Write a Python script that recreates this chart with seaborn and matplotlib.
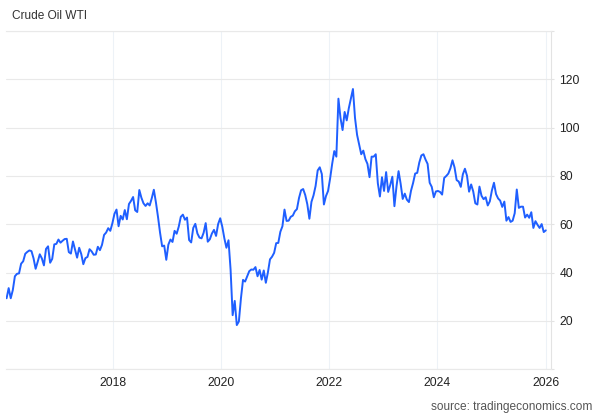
import pandas as pd
import numpy as np
import matplotlib
matplotlib.use('Agg')
import matplotlib.pyplot as plt
import seaborn as sns

# Crude Oil WTI, two-weekly closes (USD/bbl)
p2016 = [29.4, 33.6, 29.4, 32.8, 38.5, 39.5, 39.7, 43.7, 44.7, 47.8, 48.6, 49.2, 48.9,
         45.9, 41.6, 44.5, 47.6, 45.9, 43.0, 49.8, 50.9, 44.1, 45.7, 51.7, 51.9, 53.7]
p2017 = [52.4, 53.2, 53.9, 54.0, 48.5, 47.9, 52.9, 49.6, 46.2, 50.3, 47.7, 43.5, 46.0,
         46.5, 49.7, 48.8, 47.4, 47.5, 50.7, 49.3, 51.5, 55.6, 56.6, 58.4, 57.3, 60.4]
p2018 = [64.3, 66.1, 59.2, 63.5, 62.0, 65.9, 62.1, 68.4, 69.7, 71.3, 65.8, 65.1, 74.2,
         71.0, 68.7, 67.6, 68.7, 67.8, 70.8, 74.3, 69.1, 63.1, 56.5, 50.9, 51.2, 45.3]
p2019 = [51.6, 53.7, 52.7, 57.3, 56.1, 59.0, 63.1, 64.0, 61.9, 62.8, 53.5, 52.5, 58.5,
         60.2, 56.2, 54.5, 54.2, 56.5, 60.5, 52.8, 53.8, 56.2, 57.7, 55.2, 60.1, 62.5]
p2020 = [59.0, 54.2, 50.3, 53.4, 41.3, 22.4, 28.3, 18.3, 19.8, 29.4, 37.0, 36.3, 38.5,
         40.6, 41.3, 41.2, 42.3, 38.5, 41.1, 37.1, 40.9, 35.8, 40.1, 45.5, 46.6, 48.2]
p2021 = [52.2, 52.3, 56.9, 59.2, 66.1, 61.4, 61.5, 63.1, 63.6, 65.4, 66.3, 70.9, 74.1,
         74.6, 72.1, 68.3, 62.3, 69.3, 72.0, 75.9, 82.3, 83.6, 80.8, 68.2, 71.7, 73.8]
p2022 = [79.0, 85.1, 90.3, 88.0, 112.0, 104.0, 99.0, 106.5, 103.0, 108.0, 112.0, 116.0, 104.0,
         97.0, 93.0, 89.0, 90.5, 87.0, 85.0, 79.5, 88.0, 88.0, 89.0, 77.0, 71.5, 79.5]
p2023 = [73.8, 81.6, 73.4, 76.3, 79.7, 67.5, 75.7, 82.0, 76.8, 70.5, 72.7, 70.2, 69.2,
         73.9, 77.1, 81.0, 81.3, 85.6, 88.5, 89.0, 86.8, 85.0, 77.2, 75.5, 71.2, 73.6]
p2024 = [73.8, 73.4, 72.3, 79.2, 80.0, 81.0, 83.2, 86.5, 83.5, 78.3, 77.7, 75.5, 80.7,
         83.0, 80.1, 73.5, 76.5, 73.6, 68.7, 68.2, 75.6, 71.8, 70.4, 71.2, 67.8, 69.5]
p2025 = [74.0, 77.2, 72.5, 70.7, 69.8, 67.2, 69.4, 61.5, 63.0, 61.0, 61.5, 64.6, 74.4,
         66.8, 67.3, 67.3, 62.8, 64.0, 62.7, 65.0, 58.5, 61.3, 59.8, 58.5, 60.1, 56.8, 57.5]

prices = p2016 + p2017 + p2018 + p2019 + p2020 + p2021 + p2022 + p2023 + p2024 + p2025
dates = pd.date_range('2016-01-15', periods=len(prices), freq='2W-FRI')
df = pd.DataFrame({'date': dates, 'price': prices})

y_ticks = [0, 20, 40, 60, 80, 100, 120, 140]
y_labels = ['', '20', '40', '60', '80', '100', '120', '']
x_years = [2018, 2020, 2022, 2024, 2026]

sns.set_theme(style='white')
plt.rcParams['font.family'] = ['Liberation Sans', 'DejaVu Sans']

fig = plt.figure(figsize=(6.01, 4.17), dpi=100)
ax = fig.add_axes([6 / 601, 1 - 369.3 / 417, 545 / 601, 338.3 / 417])

sns.lineplot(data=df, x='date', y='price', ax=ax, color='#1f5fff', linewidth=1.4)

ax.set_xlim(pd.Timestamp('2016-01-11'), pd.Timestamp('2026-02-06'))
ax.set_ylim(0, 140)
ax.set_xlabel('')
ax.set_ylabel('')

ax.yaxis.tick_right()
ax.set_yticks(y_ticks)
ax.set_yticklabels(y_labels)
ax.set_xticks([pd.Timestamp(f'{y}-01-01') for y in x_years])
ax.set_xticklabels([str(y) for y in x_years])
ax.tick_params(axis='y', length=2, width=0.8, color='#e3e3e3', pad=4,
               labelsize=8.7, labelcolor='#222222')
ax.tick_params(axis='x', length=0, pad=5.5, labelsize=8.7, labelcolor='#222222')

ax.grid(axis='y', color='#e9e9e9', linewidth=0.8)
ax.grid(axis='x', color='#edf2f7', linewidth=0.8)
ax.set_axisbelow(True)

ax.spines['left'].set_visible(False)
ax.spines['right'].set_color('#e3e3e3')
ax.spines['top'].set_color('#e9e9e9')
ax.spines['bottom'].set_color('#e9e9e9')
for side in ['right', 'top', 'bottom']:
    ax.spines[side].set_linewidth(0.8)

fig.text(11.7 / 601, 1 - 16 / 417, 'Crude Oil WTI', va='center', ha='left',
         fontsize=8.6, color='#333333')
fig.text(592 / 601, 1 - 407 / 417, 'source: tradingeconomics.com', va='center',
         ha='right', fontsize=8.6, color='#555555')

fig.savefig('out.png', dpi=100)
